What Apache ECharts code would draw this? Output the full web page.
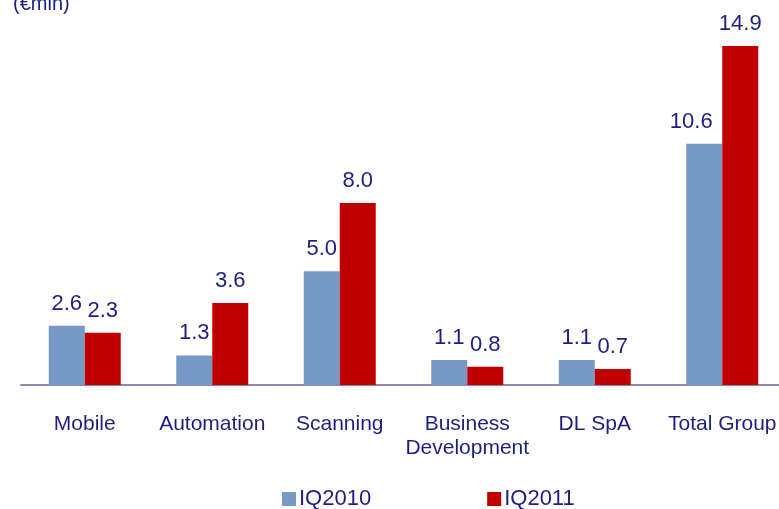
<!DOCTYPE html>
<html>
<head>
<meta charset="utf-8">
<script src="https://cdn.jsdelivr.net/npm/echarts@6/dist/echarts.min.js"></script>
<style>
  html, body { margin: 0; padding: 0; background: #fff; }
  #chart { width: 779px; height: 509px; }
</style>
</head>
<body>
<div id="chart"></div>
<script>
// 分类和数值
const categories = ['Mobile', 'Automation', 'Scanning', 'Business\nDevelopment', 'DL SpA', 'Total Group']
const q2010 = [2.6, 1.3, 5.0, 1.1, 1.1, 10.6]
const q2011 = [2.3, 3.6, 8.0, 0.8, 0.7, 14.9]
const seriesNames = ['IQ2010', 'IQ2011']

const navy = '#1e1e82'
const font = 'Liberation Sans, Arial, sans-serif'
const labelStyle = {
    show: true,
    position: 'top',
    distance: 11,
    color: navy,
    fontSize: 22,
    fontFamily: font,
    formatter: (p) => p.value.toFixed(1)
}

// 最后一个蓝色标签稍微左移，避免压到红柱
const blueData = q2010.map((v, i) => i === q2010.length - 1 ? { value: v, label: { offset: [-13, 0] } } : v)

var myChart = echarts.init(document.getElementById('chart'))
const option = {
    animation: false,
    title: {
        text: '(€mln)',
        left: 8,
        top: -11,
        textStyle: { color: navy, fontSize: 20, fontWeight: 'normal', fontFamily: font }
    },
    legend: {
        data: seriesNames,
        left: 277,
        top: 483,
        itemWidth: 14,
        itemHeight: 14,
        itemGap: 116,
        icon: 'rect',
        textStyle: { color: navy, fontSize: 22, fontFamily: font, padding: [0, 0, 0, -2] }
    },
    grid: { left: 21, top: 21, width: 765, height: 364, outerBoundsMode: 'none', containLabel: false },
    xAxis: {
        type: 'category',
        data: categories,
        axisLine: { lineStyle: { color: '#8a8aae', width: 2 } },
        axisTick: { show: false },
        axisLabel: {
            color: navy,
            fontSize: 21,
            lineHeight: 24,
            margin: 27,
            interval: 0,
            fontFamily: font
        }
    },
    yAxis: {
        type: 'value',
        min: 0,
        max: 16,
        show: false
    },
    series: [
        {
            name: seriesNames[0],
            type: 'bar',
            data: blueData,
            barWidth: 36,
            barGap: '0%',
            itemStyle: { color: '#7799c6' },
            label: labelStyle
        },
        {
            name: seriesNames[1],
            type: 'bar',
            data: q2011,
            barWidth: 36,
            itemStyle: { color: '#c00000' },
            label: labelStyle
        }
    ]
}
myChart.setOption(option)
</script>
</body>
</html>
